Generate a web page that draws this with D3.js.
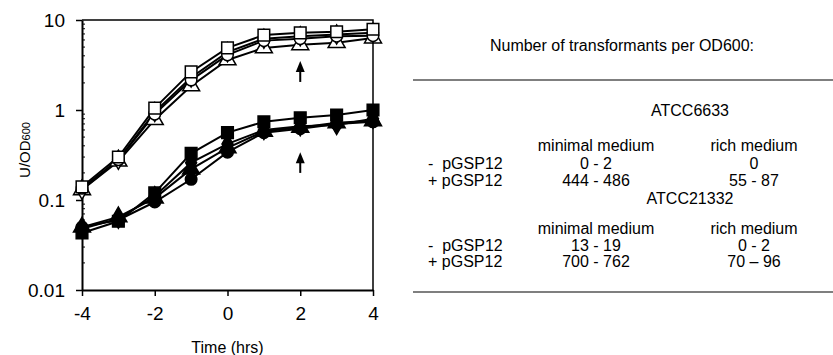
<!DOCTYPE html>
<html lang="en">
<head>
  <meta charset="UTF-8"/>
  <title>Growth and transformants</title>
  <script src="https://d3js.org/d3.v7.min.js"></script>
</head>
<body>
  <svg></svg>
</body>
<style>
body {
  margin: 0;
  background: #fff;
  font-family: 'Liberation Sans', Arial, sans-serif;
}
svg {
  width: 833px;
  height: 355px;
  display: block;
}
.axis text {
  font-size: 19px;
  fill: #000;
}
.table text {
  font-size: 16px;
  fill: #000;
}
</style>

<script>
    // time after inoculation, hrs
    const hours = [-4, -3, -2, -1, 0, 1, 2, 3, 4];

    // U/OD600, open symbols
    const openSquare   = [0.14, 0.30, 1.05, 2.65, 4.9, 6.8, 7.2, 7.4, 7.9];
    const openDiamond  = [0.13, 0.28, 0.95, 2.3, 4.4, 6.2, 6.6, 6.9, 7.2];
    const openTriangle = [0.13, 0.27, 0.78, 1.85, 3.6, 4.9, 5.3, 5.6, 6.3];
    const openCircle   = [0.135, 0.28, 0.9, 2.15, 4.1, 5.9, 6.2, 6.6, 6.7];
    // filled symbols
    const fillSquare   = [0.043, 0.058, 0.12, 0.33, 0.56, 0.74, 0.82, 0.88, 1.0];
    const fillDiamond  = [0.048, 0.062, 0.11, 0.26, 0.42, 0.6, 0.66, 0.68, 0.8];
    const fillTriangle = [0.05, 0.065, 0.105, 0.22, 0.38, 0.58, 0.64, 0.72, 0.76];
    const fillCircle   = [0.05, 0.06, 0.095, 0.17, 0.34, 0.56, 0.62, 0.7, 0.74];

    const xTicks = [-4, -2, 0, 2, 4];
    const yTicks = [0.01, 0.1, 1, 10];

    // arrows at t = 2 : [t, from, to]
    const arrows = [[2, 2.05, 3.5], [2, 0.2, 0.34]];

    // table
    const tableTitle = 'Number of transformants per OD600:';
    const strains = ['ATCC6633', 'ATCC21332'];
    const media = ['minimal medium', 'rich medium'];
    const plasmidRows = ['-  pGSP12', '+ pGSP12'];
    const counts = [
      [['0 - 2', '0'], ['444 - 486', '55 - 87']],
      [['13 - 19', '0 - 2'], ['700 - 762', '70 \u2013 96']]
    ];

    const svg = d3.select('svg');

    const x = d3.scaleLinear().domain([-4, 4]).range([82, 373]);
    const y = d3.scaleLog().domain([0.01, 10]).range([290, 20]);

    // minor log ticks, inside
    const minor = [];
    [0.01, 0.1, 1].forEach(d => { for (let k = 2; k <= 9; k++) minor.push(d * k); });
    svg.append('g').selectAll('line').data(minor).join('line')
      .attr('x1', x(-4)).attr('x2', x(-4) + 3)
      .attr('y1', d => y(d)).attr('y2', d => y(d))
      .attr('stroke', '#000').attr('stroke-width', 1);

    const yAxis = svg.append('g').attr('class', 'axis')
      .attr('transform', `translate(${x(-4)},0)`)
      .call(d3.axisLeft(y).tickValues(yTicks).tickFormat(d => String(d)).tickSize(6).tickSizeOuter(0).tickPadding(11));
    const xAxis = svg.append('g').attr('class', 'axis')
      .attr('transform', `translate(0,${y(0.01)})`)
      .call(d3.axisBottom(x).tickValues(xTicks).tickSize(6).tickSizeOuter(0).tickPadding(11));
    [yAxis, xAxis].forEach(a => {
      a.select('.domain').attr('stroke', '#000').attr('stroke-width', 2);
      a.selectAll('.tick line').attr('stroke', '#000').attr('stroke-width', 1.5);
      a.selectAll('text').attr('font-family', "'Liberation Sans', Arial, sans-serif");
    });
    xAxis.selectAll('.tick text').text(d => d < 0 ? '-' + Math.abs(d) : d);

    // frame top and right
    svg.append('path')
      .attr('d', `M${x(-4)},${y(10)}H${x(4)}V${y(0.01)}`)
      .attr('fill', 'none').attr('stroke', '#000').attr('stroke-width', 1.5);

    // axis titles
    const ylab = svg.append('text')
      .attr('transform', 'translate(30,150) rotate(-90)')
      .attr('text-anchor', 'middle')
      .attr('font-size', 15);
    ylab.append('tspan').text('U/OD');
    ylab.append('tspan').attr('font-size', 11).text('600');
    svg.append('text')
      .attr('x', x(0)).attr('y', 353)
      .attr('text-anchor', 'middle')
      .attr('font-size', 16)
      .text('Time (hrs)');

    const series = [
      { v: openTriangle, s: d3.symbolTriangle, fill: '#fff' },
      { v: openDiamond, s: d3.symbolDiamond, fill: '#fff' },
      { v: openCircle, s: d3.symbolCircle, fill: '#fff' },
      { v: openSquare, s: d3.symbolSquare, fill: '#fff' },
      { v: fillCircle, s: d3.symbolCircle, fill: '#000' },
      { v: fillTriangle, s: d3.symbolTriangle, fill: '#000' },
      { v: fillDiamond, s: d3.symbolDiamond, fill: '#000' },
      { v: fillSquare, s: d3.symbolSquare, fill: '#000' }
    ];
    const symSize = s => s === d3.symbolSquare ? 135 : s === d3.symbolTriangle ? 125 : 105;

    const line = d3.line().x((d, i) => x(hours[i])).y(d => y(d));
    series.forEach(sr => {
      svg.append('path').datum(sr.v)
        .attr('d', line)
        .attr('fill', 'none').attr('stroke', '#000').attr('stroke-width', 2);
    });
    series.forEach(sr => {
      svg.append('g').selectAll('path').data(sr.v).join('path')
        .attr('transform', (d, i) => `translate(${x(hours[i])},${y(d)})`)
        .attr('d', d3.symbol().type(sr.s).size(symSize(sr.s)))
        .attr('fill', sr.fill).attr('stroke', '#000').attr('stroke-width', 1.5);
    });

    // arrows
    arrows.forEach(a => {
      svg.append('line')
        .attr('x1', x(a[0])).attr('x2', x(a[0]))
        .attr('y1', y(a[1])).attr('y2', y(a[2]) + 9)
        .attr('stroke', '#000').attr('stroke-width', 2);
      svg.append('path')
        .attr('d', `M${x(a[0]) - 4.5},${y(a[2]) + 11}L${x(a[0])},${y(a[2])}L${x(a[0]) + 4.5},${y(a[2]) + 11}Z`)
        .attr('fill', '#000');
    });

    // table
    const tbl = svg.append('g').attr('class', 'table');
    const colX = [596, 754];
    const strainY = [116, 204];
    const mediaY = [151, 234];
    const rowY = [[169, 186], [251, 267]];
    tbl.append('text').attr('x', 622).attr('y', 51).attr('text-anchor', 'middle').text(tableTitle);
    tbl.append('line').attr('x1', 413).attr('x2', 833).attr('y1', 80).attr('y2', 80)
      .attr('stroke', '#000').attr('stroke-width', 1.2);
    tbl.append('line').attr('x1', 413).attr('x2', 833).attr('y1', 292).attr('y2', 292)
      .attr('stroke', '#000').attr('stroke-width', 1.2);
    strains.forEach((st, si) => {
      tbl.append('text').attr('x', 690).attr('y', strainY[si]).attr('text-anchor', 'middle').text(st);
      media.forEach((m, mi) => {
        tbl.append('text').attr('x', colX[mi]).attr('y', mediaY[si]).attr('text-anchor', 'middle').text(m);
      });
      plasmidRows.forEach((p, pi) => {
        const ry = rowY[si][pi];
        tbl.append('text').attr('x', 428).attr('y', ry).style('white-space', 'pre').text(p);
        counts[si][pi].forEach((c, ci) => {
          tbl.append('text').attr('x', colX[ci]).attr('y', ry).attr('text-anchor', 'middle').text(c);
        });
      });
    });
</script>
</html>
